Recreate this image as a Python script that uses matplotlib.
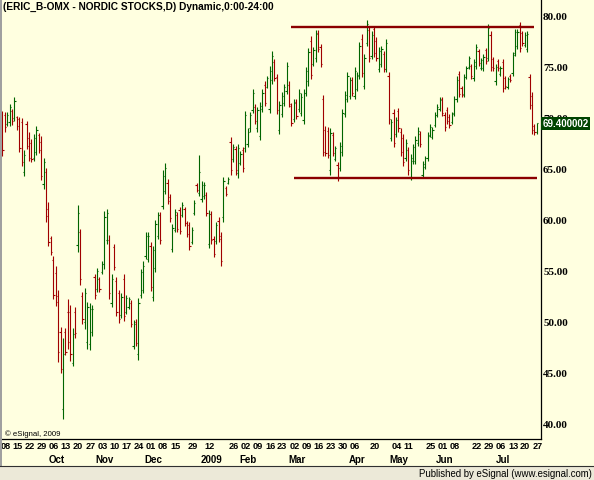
import numpy as np
import pandas as pd
import matplotlib
matplotlib.use('Agg')
import matplotlib.pyplot as plt
import matplotlib.transforms as mtrans
from matplotlib.patches import Rectangle

# ---------------- data ----------------
start_date = '2008-09-08'
end_date = '2009-07-28'
holidays = ['2008-12-24', '2008-12-25', '2008-12-26', '2008-12-31', '2009-01-01',
            '2009-01-06', '2009-04-10', '2009-04-13', '2009-05-01', '2009-05-21',
            '2009-06-19']

high = [70.6, 70.5, 70.5, 71.3, 70.8, 72.0, 70.1, 70.0, 69.9, 66.8, 69.6, 68.6, 67.9, 68.4, 69.1,
        68.5, 68.2, 66.0, 65.0, 61.7, 58.4, 56.4, 55.5, 53.1, 49.5, 48.4, 49.4, 52.2, 51.6, 49.4,
        51.4, 61.4, 59.1, 52.9, 53.3, 51.9, 51.8,
        51.6, 54.7, 55.3, 54.4, 55.9, 60.8, 61.0, 58.5, 54.7, 57.6, 54.4, 53.1, 52.8, 54.7, 52.6,
        52.4, 52.1, 50.2, 50.3, 52.3, 55.2, 55.9, 58.8, 58.8, 57.8, 57.4, 60.0, 60.7, 60.7, 64.8,
        65.5, 64.0, 62.5, 59.6, 61.0, 60.7, 61.2,
        61.7, 61.2, 59.9, 59.8, 59.3, 61.9, 63.6, 66.3, 63.8, 63.7, 62.7, 60.9, 60.8, 58.4, 59.8,
        60.2, 58.8, 64.2, 63.3, 64.2, 68.1, 67.4, 67.2, 67.4, 66.7, 67.1, 70.6, 68.9, 70.5, 72.8,
        71.3, 71.0, 71.5, 72.8, 73.5, 74.0, 75.0,
        76.5, 75.7, 74.2, 71.6, 72.5, 73.3, 75.4, 73.5, 71.4, 71.8, 71.8, 72.8, 72.4, 72.8, 74.9,
        76.8, 77.9, 76.9, 78.5, 78.5, 77.2, 72.2, 69.1, 69.0, 68.9, 68.6, 67.2, 65.6, 67.6, 70.8,
        72.6, 74.4, 73.9, 73.9, 74.9, 74.4, 77.4, 78.1,
        76.2, 79.5, 78.8, 78.4, 78.9, 77.8, 76.9, 77.0, 76.5, 77.7, 74.4, 69.8, 70.8, 70.0, 70.9,
        68.9, 68.4, 67.9, 67.1, 66.4, 67.4, 68.2, 69.0, 68.7, 65.7, 66.2, 68.6, 69.3, 69.0, 70.5,
        71.3, 72.0, 72.0, 70.5, 71.0, 70.3, 70.5,
        72.1, 74.0, 74.5, 73.1, 74.2, 75.0, 76.0, 75.2, 75.7, 77.2, 76.7, 75.8, 76.2, 76.8, 79.1,
        78.4, 75.9, 75.2, 75.7, 75.0, 75.7, 74.0, 73.9, 74.2, 76.4, 78.6, 78.6, 79.3, 78.4, 78.3,
        78.4, 74.2, 72.5, 69.3, 69.4]

low = [66.2, 68.6, 69.1, 69.1, 69.2, 69.6, 68.8, 66.6, 65.2, 64.3, 66.9, 65.7, 65.6, 65.7, 66.3,
       66.5, 63.9, 63.0, 59.8, 57.4, 56.5, 52.2, 51.5, 46.1, 45.0, 40.5, 46.7, 47.3, 46.2, 45.7,
       48.4, 56.8, 53.6, 49.8, 49.3, 47.3, 47.2,
       48.6, 52.2, 52.9, 52.9, 54.7, 55.2, 57.6, 52.2, 51.4, 55.1, 50.6, 49.9, 50.4, 50.1, 50.8,
       51.2, 49.5, 47.3, 47.6, 46.3, 52.3, 52.8, 56.1, 55.8, 53.0, 52.0, 54.9, 58.1, 57.6, 61.0,
       62.5, 61.5, 59.8, 56.8, 58.8, 58.8, 58.6,
       60.2, 59.4, 58.3, 57.0, 57.6, 60.4, 62.7, 62.3, 61.7, 62.0, 60.3, 57.2, 57.6, 56.3, 57.6,
       57.8, 55.5, 59.8, 62.3, 63.5, 64.4, 65.6, 64.4, 64.1, 65.3, 64.6, 66.6, 67.1, 68.6, 70.4,
       69.3, 68.6, 67.8, 70.5, 71.1, 72.9, 70.4,
       73.3, 73.5, 70.3, 68.4, 70.0, 71.1, 72.3, 71.0, 69.1, 69.5, 69.8, 70.5, 70.1, 69.3, 72.1,
       73.1, 73.7, 75.0, 75.4, 76.4, 74.9, 66.2, 66.2, 66.0, 64.4, 66.2, 65.7, 63.8, 64.7, 66.2,
       70.0, 71.5, 71.8, 72.1, 71.8, 72.6, 73.7, 73.9,
       72.8, 77.0, 75.4, 75.7, 75.9, 75.5, 74.4, 74.9, 74.4, 74.4, 69.3, 67.7, 67.1, 68.1, 68.6,
       66.2, 65.2, 65.7, 64.4, 63.9, 65.4, 65.4, 67.2, 67.1, 64.2, 64.9, 65.7, 68.1, 67.9, 69.0,
       70.0, 70.6, 70.1, 68.7, 69.3, 68.9, 69.3,
       70.1, 71.5, 72.0, 72.0, 72.0, 73.7, 74.7, 73.7, 73.5, 74.7, 75.0, 74.6, 74.5, 75.2, 75.5,
       74.5, 74.5, 73.2, 74.5, 74.0, 72.5, 72.8, 72.8, 73.4, 74.0, 76.0, 76.7, 76.4, 77.0, 76.9,
       76.4, 70.8, 68.4, 68.3, 68.4]

open_ = [70.0, 70.2, 69.3, 69.5, 70.6, 69.9, 70.0, 69.8, 69.5, 64.6, 69.3, 68.0, 67.5, 66.0, 66.6,
         68.3, 67.6, 63.5, 64.6, 61.0, 58.2, 56.0, 54.8, 52.5, 49.0, 41.5, 49.0, 51.0, 51.0, 46.0,
         51.0, 57.5, 58.8, 52.5, 50.0, 48.0, 47.8,
         49.0, 54.4, 53.2, 54.2, 54.9, 55.6, 58.0, 58.0, 51.8, 57.3, 54.0, 52.8, 50.7, 54.2, 51.0,
         51.4, 51.8, 47.6, 50.0, 46.8, 52.6, 53.1, 56.4, 56.1, 57.4, 52.4, 55.3, 58.4, 60.4, 61.3,
         62.8, 63.6, 62.2, 57.1, 59.0, 60.4, 60.9,
         60.4, 61.0, 59.7, 59.5, 57.8, 60.6, 63.4, 62.6, 62.0, 62.3, 62.4, 57.6, 60.5, 58.1, 57.9,
         59.9, 58.4, 60.2, 63.1, 63.6, 67.6, 65.9, 66.9, 64.5, 65.5, 66.8, 67.0, 67.4, 68.9, 70.7,
         71.0, 68.9, 68.2, 70.8, 73.2, 73.0, 70.8,
         73.6, 75.4, 73.9, 68.8, 70.3, 71.4, 72.6, 73.2, 71.1, 69.8, 71.5, 70.8, 70.4, 69.7, 72.4,
         73.5, 77.5, 75.2, 75.8, 78.2, 76.9, 71.8, 68.8, 68.7, 64.8, 68.3, 65.9, 65.3, 65.0, 66.6,
         70.3, 71.8, 72.1, 73.6, 72.1, 72.8, 74.0, 77.7,
         73.1, 77.3, 78.5, 76.0, 78.6, 77.5, 74.7, 75.2, 76.2, 74.7, 74.0, 68.0, 70.4, 68.4, 70.6,
         68.6, 68.0, 66.0, 66.8, 64.2, 65.7, 65.7, 67.5, 68.4, 64.4, 65.1, 66.0, 68.3, 68.1, 69.2,
         70.2, 70.8, 71.8, 70.2, 70.7, 70.0, 69.5,
         70.4, 71.8, 74.2, 72.9, 72.3, 73.9, 74.9, 75.0, 73.8, 75.0, 76.5, 74.8, 74.8, 76.6, 75.8,
         78.0, 75.7, 73.5, 75.5, 74.2, 75.4, 73.8, 73.0, 74.0, 74.3, 76.3, 77.0, 79.0, 78.2, 77.1,
         76.7, 73.9, 72.1, 69.1, 68.6]

close = [66.8, 69.0, 70.2, 71.0, 69.6, 71.6, 69.1, 67.0, 65.6, 66.3, 67.2, 66.0, 65.9, 68.0, 68.8,
         66.8, 64.3, 65.6, 60.3, 57.8, 56.8, 52.6, 51.9, 47.0, 45.4, 46.8, 47.0, 48.0, 46.8, 48.8,
         48.9, 60.6, 54.2, 50.3, 52.8, 51.4, 51.2,
         51.2, 52.6, 55.0, 53.2, 55.6, 60.2, 60.6, 52.8, 54.2, 55.4, 51.0, 50.3, 52.4, 50.6, 52.3,
         52.2, 49.8, 49.8, 47.9, 51.8, 54.9, 55.5, 58.4, 58.4, 53.4, 57.0, 59.6, 60.4, 58.0, 64.3,
         65.0, 61.8, 60.1, 59.2, 60.7, 59.1, 58.9,
         61.4, 59.7, 58.6, 57.4, 59.0, 61.6, 62.9, 64.6, 63.4, 63.4, 60.6, 60.5, 58.0, 56.6, 59.5,
         58.1, 55.9, 63.8, 62.5, 64.0, 64.8, 67.1, 64.8, 67.0, 66.4, 65.0, 70.2, 68.6, 70.2, 72.4,
         69.6, 70.7, 71.1, 72.4, 71.4, 73.8, 74.5,
         76.0, 73.8, 70.7, 71.2, 72.1, 73.0, 75.0, 71.3, 69.4, 71.4, 70.1, 72.4, 72.0, 72.4, 74.5,
         76.4, 74.1, 76.6, 78.1, 76.7, 75.2, 66.6, 66.5, 66.3, 68.5, 66.5, 67.0, 64.1, 67.2, 70.4,
         72.2, 74.0, 73.6, 72.4, 74.5, 74.1, 77.0, 74.3,
         75.8, 79.1, 75.8, 78.0, 76.3, 75.8, 76.5, 76.7, 74.7, 77.3, 69.8, 69.5, 67.5, 69.7, 68.9,
         66.6, 65.6, 67.5, 64.8, 66.0, 67.1, 67.8, 68.7, 67.4, 65.4, 66.0, 68.2, 69.0, 68.8, 70.2,
         71.0, 71.7, 70.4, 69.0, 69.6, 69.2, 70.3,
         71.8, 73.6, 72.3, 72.2, 73.9, 74.8, 75.8, 74.0, 75.4, 76.9, 75.3, 75.6, 75.9, 75.5, 78.7,
         74.9, 74.8, 74.9, 74.8, 74.8, 72.9, 73.1, 73.7, 73.6, 76.1, 78.3, 78.3, 76.8, 77.3, 78.0,
         78.1, 71.2, 68.8, 68.6, 69.4]

# weekly tick labels shown on the date axis
day_tick_dates = ['2008-09-08', '2008-09-15', '2008-09-22', '2008-09-29', '2008-10-06',
                  '2008-10-13', '2008-10-20', '2008-10-27', '2008-11-03', '2008-11-10',
                  '2008-11-17', '2008-11-24', '2008-12-01', '2008-12-08', '2008-12-15',
                  '2008-12-29', '2009-01-12', '2009-01-26', '2009-02-02', '2009-02-09',
                  '2009-02-16', '2009-02-23', '2009-03-02', '2009-03-09', '2009-03-16',
                  '2009-03-23', '2009-03-30', '2009-04-06', '2009-04-20', '2009-05-04',
                  '2009-05-11', '2009-05-25', '2009-06-01', '2009-06-08', '2009-06-22',
                  '2009-06-29', '2009-07-06', '2009-07-13', '2009-07-20', '2009-07-27']
month_labels = ['Oct', 'Nov', 'Dec', '2009', 'Feb', 'Mar', 'Apr', 'May', 'Jun', 'Jul']
month_dates = ['2008-10-06', '2008-11-03', '2008-12-01', '2009-01-12', '2009-02-02',
               '2009-03-02', '2009-04-06', '2009-05-04', '2009-06-01', '2009-07-06']

price_ticks = [40, 45, 50, 55, 60, 65, 70, 75, 80]

# horizontal range lines: (price, from, to)
range_lines = [(78.78, '2009-03-02', '2009-07-27'),
               (64.06, '2009-03-03', '2009-07-28')]

title = '(ERIC_B-OMX - NORDIC STOCKS,D) Dynamic,0:00-24:00'

# ---------------- figure ----------------
BG = '#FFFFE0'
GREEN = '#006400'
RED = '#A00000'
W, H = 594, 481

dates = pd.bdate_range(start_date, end_date, freq='C', holidays=holidays)
x = np.arange(len(dates))
o, h, l, c = map(np.asarray, (open_, high, low, close))
cols = [GREEN if cc >= oo else RED for oo, cc in zip(o, c)]

fig = plt.figure(figsize=(W / 100, H / 100), dpi=100)
fig.patch.set_facecolor(BG)

ax = fig.add_axes([2 / W, 41 / H, 539 / W, 440 / H])
ax.set_facecolor(BG)
ax.set_xlim(-0.12, 221.7)
ax.set_ylim(38.533, 81.565)

for s in ['top', 'left']:
    ax.spines[s].set_visible(False)
for s in ['right', 'bottom']:
    ax.spines[s].set_color('black')
    ax.spines[s].set_linewidth(0.9)

ax.set_xticks([])
ax.yaxis.tick_right()
ax.set_yticks(price_ticks)
ax.set_yticklabels(['%.2f' % p for p in price_ticks], family='Liberation Serif',
                   fontweight='bold', fontsize=8)
ax.tick_params(axis='y', length=0, pad=1.5)

# OHLC bars
ax.vlines(x, l, h, colors=cols, lw=0.8)
ax.hlines(o, x - 0.5, x, colors=cols, lw=0.8)
ax.hlines(c, x, x + 0.5, colors=cols, lw=0.8)

for price, d0, d1 in range_lines:
    ax.hlines(price, dates.get_loc(pd.Timestamp(d0)), dates.get_loc(pd.Timestamp(d1)),
              color='#8B0000', lw=1.7)

# last price tag
last_label = '%.6f' % float(np.float32(close[-1]))
t_last = ax.annotate(last_label, xy=(1.0, close[-1]), xycoords=('axes fraction', 'data'),
                     xytext=(1.2, 0), textcoords='offset points', ha='left', va='center',
                     color='white', fontsize=7.5, fontweight='bold', family='Liberation Sans',
                     bbox=dict(boxstyle='square,pad=0.15', fc='#004400', ec='none'),
                     zorder=5)

# date axis labels
tr = mtrans.blended_transform_factory(ax.transData, ax.transAxes)
for d in day_tick_dates:
    i = dates.get_loc(pd.Timestamp(d))
    ax.text(i + 1.2, -7 / 440, pd.Timestamp(d).strftime('%d'), transform=tr,
            ha='center', va='center', fontsize=6.6, fontweight='bold',
            family='Liberation Sans', clip_on=False)
for lab, d in zip(month_labels, month_dates):
    i = dates.get_loc(pd.Timestamp(d))
    ax.text(i + 2.2, -20 / 440, lab, transform=tr, ha='center', va='center',
            fontsize=7, fontweight='bold', family='Liberation Sans', clip_on=False)

# frame pieces
fig.add_artist(Rectangle((0, 14 / H), 2 / W, 1 - 14 / H, transform=fig.transFigure,
                         fc='#A0A0A0', ec='none'))
fig.add_artist(Rectangle((0, 0), 1, 14 / H, transform=fig.transFigure,
                         fc='#ECE9D8', ec='none'))
fig.add_artist(plt.Line2D([0, 1], [14.5 / H, 14.5 / H], transform=fig.transFigure,
                          color='#303030', lw=0.8))

t_title = fig.text(3 / W, 1 - 6.5 / H, title, ha='left', va='center',
                   fontsize=8, fontweight='bold', family='Liberation Sans')
t_copy = fig.text(5 / W, 1 - 434 / H, '\u00a9 eSignal, 2009', ha='left', va='center',
                  fontsize=4.5, family='Liberation Sans')
t_pub = fig.text(592 / W, 7 / H, 'Published by eSignal (www.esignal.com)', ha='right',
                 va='center', fontsize=8, family='Liberation Sans')

# squeeze texts to the widths seen on the chart
fig.canvas.draw()
r = fig.canvas.get_renderer()
for t, target in [(t_title, 273), (t_copy, 55), (t_pub, 174), (t_last, 46)]:
    w = t.get_window_extent(renderer=r).width
    t.set_fontsize(t.get_fontsize() * target / w)

fig.savefig('out.png', dpi=100, facecolor=BG)
